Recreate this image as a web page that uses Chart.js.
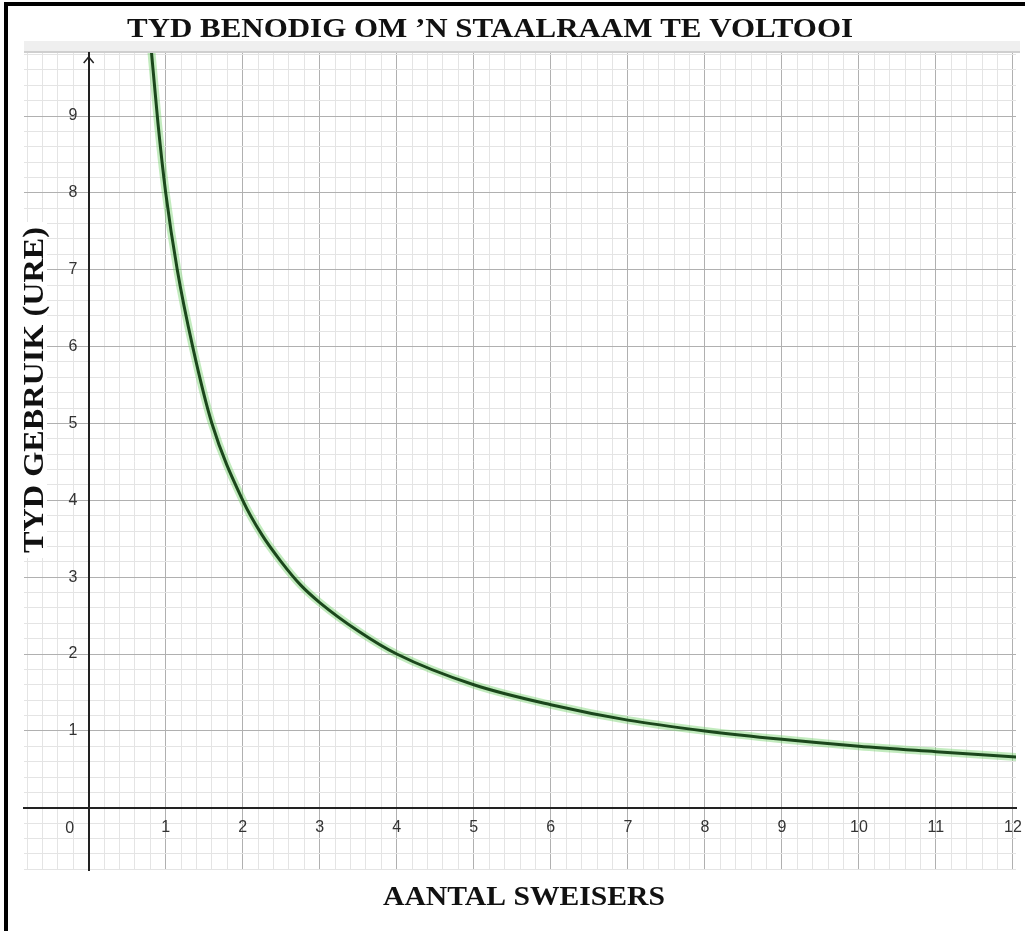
<!DOCTYPE html>
<html>
<head>
<meta charset="utf-8">
<title>Tyd benodig om 'n staalraam te voltooi</title>
<script src="https://cdn.jsdelivr.net/npm/chart.js"></script>
<style>
    body { margin: 0; background: #fff; }
    canvas { display: block; }
</style>
</head>
<body>
<canvas id="chart" width="1025" height="931"></canvas>
<script>
    const chartTitle = 'TYD BENODIG OM ’N STAALRAAM TE VOLTOOI';
    const xTitle = 'AANTAL SWEISERS';
    const yTitle = 'TYD GEBRUIK (URE)';

    // aantal sweisers (x) en ure (y), afgelees van die kromme
    const welders = [0.8, 0.9, 1, 1.15, 1.35, 1.6, 2, 2.25, 2.5, 2.75, 3, 3.5, 4, 5, 6, 7, 8, 9, 10, 11, 12.05];
    const hours = [10, 8.9, 8, 7, 6, 5, 4, 3.55, 3.2, 2.9, 2.67, 2.3, 2, 1.6, 1.34, 1.14, 1, 0.89, 0.8, 0.73, 0.66];

    const xRange = [-0.84, 12.04];
    const yRange = [-0.81, 9.82];

    const points = welders.map((x, i) => ({x: x, y: hours[i]}));

    const isWhole = v => Math.abs(v - Math.round(v)) < 1e-6;
    const gridColor = ctx => isWhole(ctx.tick.value) ? '#b0b0b0' : '#e4e4e4';
    const xLabel = v => (isWhole(v) && Math.round(v) > 0) ? String(Math.round(v)) : '';
    // en space + thin space keep the labels off the axis line
    const yLabel = v => (isWhole(v) && Math.round(v) > 0) ? Math.round(v) + '\u2002\u2009' : '';

    // draw text squeezed/stretched to a given width
    function fitText(c, text, x, y, width) {
        const w = c.measureText(text).width;
        c.save();
        c.translate(x, y);
        c.scale(width / w, 1);
        c.fillText(text, 0, 0);
        c.restore();
    }

    const decor = {
        id: 'decor',
        beforeDraw(chart) {
            const c = chart.ctx;
            const a = chart.chartArea;
            c.save();
            c.fillStyle = '#fff';
            c.fillRect(0, 0, chart.width, chart.height);
            // frame
            c.fillStyle = '#000';
            c.fillRect(4, 2, chart.width - 4, 4);
            c.fillRect(4, 2, 4, chart.height - 2);
            // grey strip above the grid
            c.fillStyle = '#efefef';
            c.fillRect(a.left, a.top - 12, a.right - a.left + 4, 11);
            c.fillStyle = '#cfcfcf';
            c.fillRect(a.left, a.top - 2, a.right - a.left + 4, 2);
            c.restore();
        },
        afterDraw(chart) {
            const c = chart.ctx;
            const a = chart.chartArea;
            const x0 = chart.scales.x.getPixelForValue(0);
            const y0 = chart.scales.y.getPixelForValue(0);
            c.save();
            // arrow on the vertical axis
            c.strokeStyle = '#222';
            c.lineWidth = 1.5;
            c.beginPath();
            c.moveTo(x0 - 5, a.top + 10);
            c.lineTo(x0, a.top + 4);
            c.lineTo(x0 + 5, a.top + 10);
            c.stroke();
            // origin label
            c.fillStyle = '#333';
            c.font = '16px "Liberation Sans"';
            c.textAlign = 'center';
            c.textBaseline = 'middle';
            c.fillText('0', x0 - 19, y0 + 21);
            // titles
            c.fillStyle = '#111';
            c.font = 'bold 28px "Liberation Serif"';
            fitText(c, chartTitle, 490, 30, 726);
            fitText(c, xTitle, 524, 898, 282);
            c.translate(34, 390);
            c.rotate(-Math.PI / 2);
            c.fillStyle = '#fff';
            c.fillRect(-168, -13, 336, 26);
            c.fillStyle = '#111';
            c.font = 'bold 30px "Liberation Serif"';
            fitText(c, yTitle, 0, 1, 326);
            c.restore();
        }
    };

    Chart.defaults.font.family = '"Liberation Sans", Arial, sans-serif';

    new Chart(document.getElementById('chart'), {
        type: 'line',
        data: {
            datasets: [
                {
                    label: 'Tyd (ure)',
                    data: points,
                    borderColor: '#1b471c',
                    borderWidth: 3,
                    pointRadius: 0,
                    cubicInterpolationMode: 'monotone'
                },
                {
                    label: 'glow',
                    data: points,
                    borderColor: 'rgba(120, 210, 110, 0.45)',
                    borderWidth: 8,
                    pointRadius: 0,
                    cubicInterpolationMode: 'monotone'
                }
            ]
        },
        options: {
            responsive: false,
            animation: false,
            layout: {padding: {left: 24, top: 53, right: 9, bottom: 61}},
            plugins: {
                legend: {display: false},
                tooltip: {enabled: false}
            },
            scales: {
                x: {
                    type: 'linear',
                    position: {y: 0},
                    min: xRange[0],
                    max: xRange[1],
                    grid: {color: gridColor, lineWidth: 1, drawTicks: false},
                    border: {display: true, color: '#222', width: 2},
                    ticks: {
                        stepSize: 0.2,
                        includeBounds: false,
                        autoSkip: false,
                        maxRotation: 0,
                        padding: 0,
                        color: '#333',
                        font: {size: 16, lineHeight: 2.5},
                        callback: xLabel
                    }
                },
                y: {
                    type: 'linear',
                    position: {x: 0},
                    min: yRange[0],
                    max: yRange[1],
                    grid: {color: gridColor, lineWidth: 1, drawTicks: false},
                    border: {display: true, color: '#222', width: 2},
                    ticks: {
                        stepSize: 0.2,
                        includeBounds: false,
                        autoSkip: false,
                        color: '#333',
                        font: {size: 16},
                        callback: yLabel
                    }
                }
            }
        },
        plugins: [decor]
    });
</script>
</body>
</html>
